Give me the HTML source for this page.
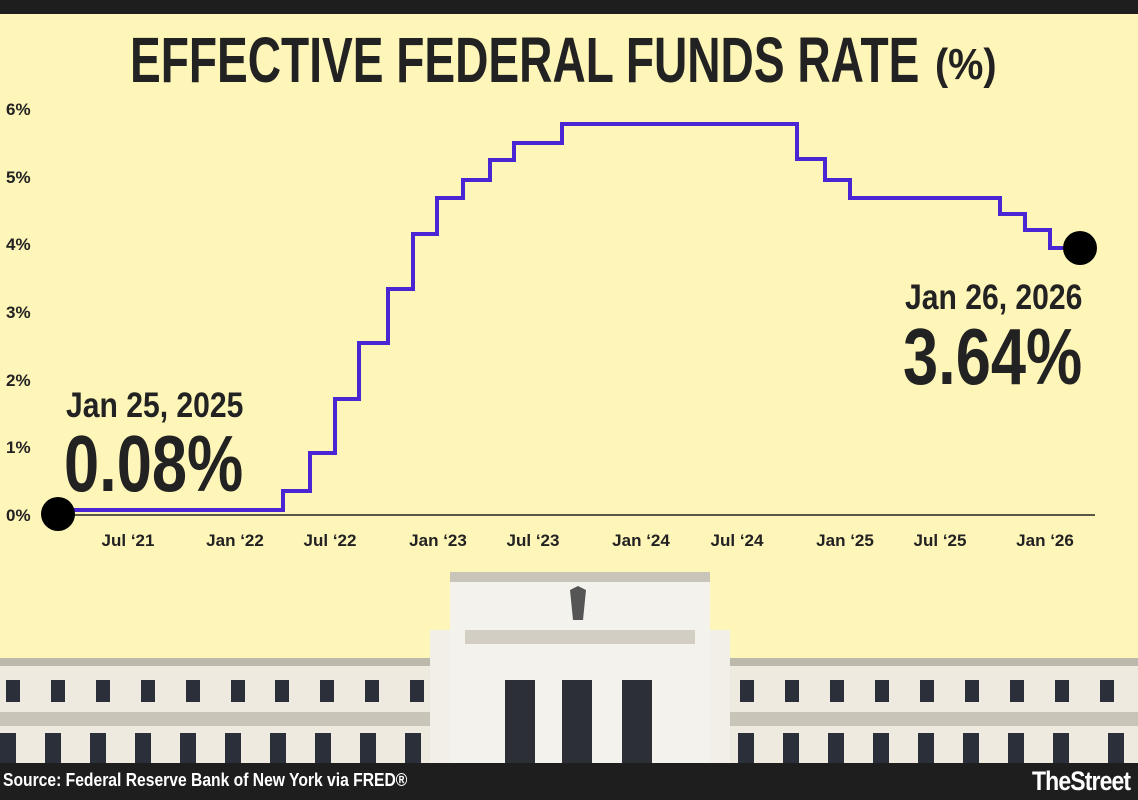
<!DOCTYPE html>
<html><head><meta charset="utf-8"><style>
body{margin:0;width:1138px;height:800px;overflow:hidden;background:#fef5b8;font-family:"Liberation Sans",sans-serif;position:relative}
.t{position:absolute;white-space:nowrap;color:#222;font-weight:bold;transform-origin:left top}
</style></head><body>
<div style="position:absolute;left:0;top:0;width:1138px;height:14px;background:#1e1e1e"></div>
<div class="t" style="left:130px;top:23px;font-size:64px;transform:scaleX(0.72)">EFFECTIVE FEDERAL FUNDS RATE</div>
<div class="t" style="left:935px;top:40px;font-size:44px;transform:scaleX(0.9)">(%)</div>
<svg width="1138" height="800" style="position:absolute;left:0;top:0">
<g font-family="Liberation Sans" font-weight="bold" font-size="17" fill="#222">
<text x="6" y="115">6%</text><text x="6" y="183">5%</text><text x="6" y="250">4%</text><text x="6" y="318">3%</text><text x="6" y="386">2%</text><text x="6" y="453">1%</text><text x="6" y="521">0%</text>
<g text-anchor="middle"><text x="128" y="546">Jul ‘21</text><text x="235" y="546">Jan ‘22</text><text x="330" y="546">Jul ‘22</text><text x="438" y="546">Jan ‘23</text><text x="533" y="546">Jul ‘23</text><text x="641" y="546">Jan ‘24</text><text x="737" y="546">Jul ‘24</text><text x="845" y="546">Jan ‘25</text><text x="940" y="546">Jul ‘25</text><text x="1045" y="546">Jan ‘26</text></g>
</g>
<line x1="58" y1="515" x2="1095" y2="515" stroke="#222" stroke-width="1.5"/>
<path d="M58 510H283V491H310V453H335V399H359V343H388V289H413V234H437V198H463V180H490V160H514V143H562V124H797V159H825V180H850V198H1000V214H1025V230H1050V248H1080" fill="none" stroke="#4a25d4" stroke-width="4"/>
<circle cx="58" cy="514" r="17" fill="#000"/><circle cx="1080" cy="248" r="17" fill="#000"/>
<g>
<rect x="0" y="658" width="1138" height="105" fill="#eeeae0"/>
<rect x="0" y="658" width="1138" height="8" fill="#bdb8ac"/>
<rect x="0" y="712" width="1138" height="14" fill="#c9c4b8"/>
<rect x="430" y="630" width="300" height="133" fill="#f2efe8"/>
<rect x="450" y="572" width="260" height="191" fill="#f4f2ec"/>
<rect x="450" y="572" width="260" height="10" fill="#c8c4ba"/>
<rect x="465" y="630" width="230" height="14" fill="#d2cec4"/>
<path d="M570 590l8 -4 8 4 -3 30h-10z" fill="#555"/>
<rect x="505" y="680" width="30" height="83" fill="#2c2f36"/><rect x="562" y="680" width="30" height="83" fill="#2c2f36"/><rect x="622" y="680" width="30" height="83" fill="#2c2f36"/>
<g fill="#2b2f3a">
<rect x="6" y="680" width="14" height="22"/><rect x="51" y="680" width="14" height="22"/><rect x="96" y="680" width="14" height="22"/><rect x="141" y="680" width="14" height="22"/><rect x="186" y="680" width="14" height="22"/><rect x="231" y="680" width="14" height="22"/><rect x="275" y="680" width="14" height="22"/><rect x="320" y="680" width="14" height="22"/><rect x="365" y="680" width="14" height="22"/><rect x="410" y="680" width="14" height="22"/>
<rect x="740" y="680" width="14" height="22"/><rect x="785" y="680" width="14" height="22"/><rect x="830" y="680" width="14" height="22"/><rect x="875" y="680" width="14" height="22"/><rect x="920" y="680" width="14" height="22"/><rect x="965" y="680" width="14" height="22"/><rect x="1010" y="680" width="14" height="22"/><rect x="1055" y="680" width="14" height="22"/><rect x="1100" y="680" width="14" height="22"/>
<rect x="0" y="733" width="16" height="30"/><rect x="45" y="733" width="16" height="30"/><rect x="90" y="733" width="16" height="30"/><rect x="135" y="733" width="16" height="30"/><rect x="180" y="733" width="16" height="30"/><rect x="225" y="733" width="16" height="30"/><rect x="270" y="733" width="16" height="30"/><rect x="315" y="733" width="16" height="30"/><rect x="360" y="733" width="16" height="30"/><rect x="405" y="733" width="16" height="30"/>
<rect x="738" y="733" width="16" height="30"/><rect x="783" y="733" width="16" height="30"/><rect x="828" y="733" width="16" height="30"/><rect x="873" y="733" width="16" height="30"/><rect x="918" y="733" width="16" height="30"/><rect x="963" y="733" width="16" height="30"/><rect x="1008" y="733" width="16" height="30"/><rect x="1053" y="733" width="16" height="30"/><rect x="1108" y="733" width="16" height="30"/>
</g></g>
</svg>
<div class="t" style="left:66px;top:386px;font-size:35px;transform:scaleX(0.86)">Jan 25, 2025</div>
<div class="t" style="left:64px;top:418px;font-size:80px;transform:scaleX(0.79)">0.08%</div>
<div class="t" style="left:905px;top:278px;font-size:35px;transform:scaleX(0.86)">Jan 26, 2026</div>
<div class="t" style="left:903px;top:311px;font-size:80px;transform:scaleX(0.79)">3.64%</div>
<div style="position:absolute;left:0;top:763px;width:1138px;height:37px;background:#1e1e1e"></div>
<div class="t" style="left:3px;top:770px;font-size:18px;color:#fff;transform:scaleX(0.87)">Source: Federal Reserve Bank of New York via FRED®</div>
<div class="t" style="left:1032px;top:766px;font-size:27px;color:#fff;letter-spacing:-1px;transform:scaleX(0.85)">TheStreet</div>
</body></html>
